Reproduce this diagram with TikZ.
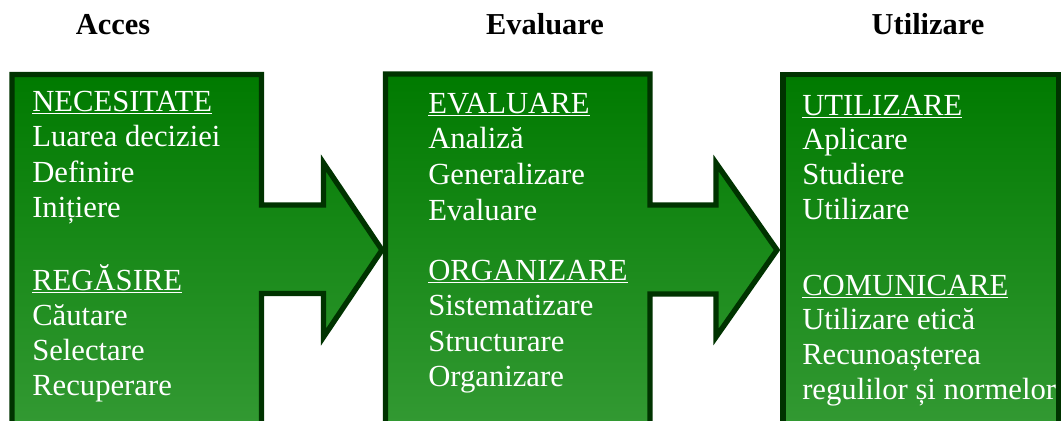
\documentclass[tikz,border=0pt]{standalone}
\usepackage{fontspec}
\setmainfont{Liberation Serif}
\definecolor{gtop}{RGB}{0,122,0}
\definecolor{gbot}{RGB}{52,154,52}
\definecolor{gborder}{RGB}{0,51,0}
\tikzset{
  panel/.style={draw=gborder, line width=4pt, top color=gtop, bottom color=gbot, miter limit=10},
  txt/.style={anchor=base west, inner sep=0pt, text=white, font=\fontsize{23}{26}\selectfont},
  head/.style={anchor=base, inner sep=0pt, text=black, font=\fontsize{22.8}{26}\selectfont\bfseries}
}
\begin{document}
\begin{tikzpicture}[x=0.75pt,y=-0.75pt]
\useasboundingbox (0,0) rectangle (1061,421);
\begin{scope}
\clip (0,0) rectangle (1061,421);
\path[panel] (12,435) -- (12,74.5) -- (261.5,74.5) -- (261.5,205) -- (323.5,205) -- (323.5,163)
  -- (382,250) -- (323.5,337) -- (323.5,293.5) -- (261.5,293.5) -- (261.5,435) -- cycle;
\path[panel] (385.5,435) -- (385.5,74) -- (650,74) -- (650,205) -- (716,205) -- (716,163)
  -- (777,250) -- (716,337) -- (716,294) -- (650,294) -- (650,435) -- cycle;
\path[panel] (783,435) -- (783,74.5) -- (1058.5,74.5) -- (1058.5,435) -- cycle;
\end{scope}
\node[head] (hacc) at (113,35) {Acces};
\node[head] (heval) at (545,35) {Evaluare};
\node[head] (hutil) at (928,35) {Utilizare};
\foreach \t/\y/\n in {{\underline{NECESITATE}}/111/a1, {Luarea deciziei}/146/a2, Definire/182/a3, Inițiere/217/a4,
  {\underline{REGĂSIRE}}/290/a5, Căutare/325/a6, Selectare/360/a7, Recuperare/395/a8}
  \node[txt] (\n) at (32,\y) {\t};
\foreach \t/\y/\n in {{\underline{EVALUARE}}/113/b1, Analiză/148/b2, Generalizare/184/b3, Evaluare/220/b4,
  {\underline{ORGANIZARE}}/280/b5, Sistematizare/315/b6, Structurare/351/b7, Organizare/386/b8}
  \node[txt] (\n) at (428,\y) {\t};
\foreach \t/\y/\n in {{\underline{UTILIZARE}}/115/c1, Aplicare/149/c2, Studiere/184/c3, Utilizare/219/c4,
  {\underline{COMUNICARE}}/295/c5, {Utilizare etică}/329/c6, Recunoașterea/364/c7, {regulilor și normelor}/399/c8}
  \node[txt] (\n) at (802,\y) {\t};
\end{tikzpicture}
\end{document}
